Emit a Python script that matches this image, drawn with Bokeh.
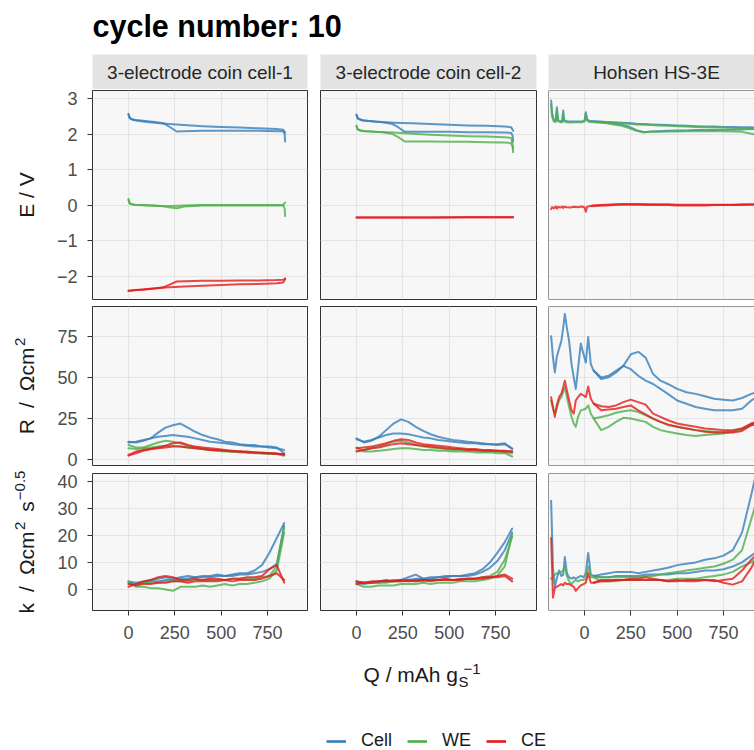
from math import pi
from bokeh.plotting import figure
from bokeh.models import (Range1d, FixedTicker, Grid, Span, Legend, LegendItem,
                          Spacer, LinearAxis)
from bokeh.layouts import column, row
from bokeh.embed import file_html
from bokeh.resources import INLINE
from bokeh.core.properties import value

# ---------------------------------------------------------------- data
TITLE = "cycle number: 10"
CELL_NAMES = ["3-electrode coin cell-1", "3-electrode coin cell-2", "Hohsen HS-3E"]
SERIES = ["Cell", "WE", "CE"]
Q_TICKS = [0, 250, 500, 750]
E_TICKS = [-2, -1, 0, 1, 2, 3]
R_TICKS = [0, 25, 50, 75]
K_TICKS = [0, 10, 20, 30, 40]

# coin cells, potential
QE_A = [0, 5, 25, 80, 140, 190, 225, 260, 300, 400, 500, 600, 700, 800, 835, 843, 845]
QE_B = [845, 835, 800, 700, 600, 500, 400, 300, 200, 100, 40, 10, 0]
E_C1_CELL_A = [2.58, 2.47, 2.41, 2.38, 2.35, 2.31, 2.20, 2.08, 2.09, 2.10, 2.10, 2.10, 2.10, 2.09, 2.09, 2.00, 1.80]
E_C1_CELL_B = [2.05, 2.13, 2.15, 2.17, 2.19, 2.21, 2.23, 2.26, 2.30, 2.35, 2.39, 2.44, 2.55]
E_C1_WE_A = [0.18, 0.05, 0.02, 0.01, 0.00, -0.02, -0.06, -0.08, -0.03, 0.00, 0.00, 0.00, 0.00, 0.00, 0.00, -0.10, -0.30]
E_C1_WE_B = [0.08, 0.02, 0.01, 0.01, 0.01, 0.01, 0.01, 0.00, -0.02, 0.00, 0.01, 0.05, 0.15]
E_C1_CE_A = [-2.40, -2.40, -2.39, -2.37, -2.34, -2.30, -2.22, -2.14, -2.13, -2.12, -2.12, -2.11, -2.11, -2.10, -2.09, -2.07, -2.05]
E_C1_CE_B = [-2.08, -2.17, -2.19, -2.21, -2.22, -2.24, -2.26, -2.28, -2.31, -2.35, -2.38, -2.40, -2.40]
E_C2_CELL_A = [2.55, 2.45, 2.40, 2.37, 2.34, 2.30, 2.20, 2.07, 2.07, 2.07, 2.07, 2.06, 2.06, 2.05, 2.04, 1.95, 1.80]
E_C2_CELL_B = [2.10, 2.20, 2.22, 2.24, 2.25, 2.27, 2.29, 2.31, 2.33, 2.36, 2.39, 2.44, 2.55]
E_C2_WE_A = [2.25, 2.15, 2.10, 2.08, 2.06, 2.02, 1.92, 1.80, 1.80, 1.80, 1.79, 1.79, 1.78, 1.77, 1.75, 1.65, 1.50]
E_C2_WE_B = [1.60, 1.90, 1.92, 1.94, 1.95, 1.97, 1.99, 2.02, 2.05, 2.07, 2.09, 2.12, 2.22]
E_C2_CE_A = [-0.34, -0.34, -0.34, -0.34, -0.34, -0.34, -0.34, -0.34, -0.34, -0.34, -0.33, -0.33, -0.33, -0.33, -0.33, -0.33, -0.33]
E_C2_CE_B = [-0.33, -0.33, -0.33, -0.33, -0.33, -0.34, -0.34, -0.34, -0.34, -0.34, -0.34, -0.34, -0.34]

# coin cells, resistance and k on a common capacity grid
QC = [0, 40, 80, 120, 160, 200, 240, 280, 320, 360, 400, 440, 480, 520, 560, 600, 640, 680, 720, 760, 800, 840]
R_C1_CELL_A = [11.0, 10.5, 11.5, 13.0, 16.5, 19.5, 21.0, 22.0, 19.5, 17.0, 15.0, 13.5, 12.5, 11.0, 10.5, 9.5, 9.0, 9.0, 8.0, 8.0, 7.5, 4.0]
R_C1_CELL_B = [10.5, 11.0, 12.0, 13.0, 14.0, 14.5, 15.0, 14.5, 14.0, 13.0, 12.0, 11.0, 10.5, 10.0, 9.5, 9.0, 8.5, 8.0, 8.0, 7.5, 7.0, 6.0]
R_C1_WE_A = [9.0, 7.5, 7.5, 9.0, 10.5, 11.5, 11.0, 10.0, 8.5, 7.5, 6.5, 6.0, 5.5, 5.0, 5.0, 4.5, 4.5, 4.0, 4.0, 3.5, 3.5, 2.5]
R_C1_WE_B = [7.0, 6.5, 7.0, 7.5, 8.0, 8.5, 8.5, 8.0, 7.5, 7.0, 6.5, 6.0, 5.5, 5.5, 5.0, 5.0, 4.5, 4.5, 4.0, 4.0, 3.5, 3.0]
R_C1_CE_A = [2.5, 4.0, 5.5, 6.5, 7.5, 8.5, 10.0, 10.5, 9.0, 8.0, 7.5, 7.0, 6.5, 6.0, 5.5, 5.0, 5.0, 4.5, 4.5, 4.0, 4.0, 3.0]
R_C1_CE_B = [3.0, 5.0, 6.0, 6.5, 7.0, 7.5, 8.0, 8.0, 7.5, 7.0, 6.5, 6.0, 6.0, 5.5, 5.0, 5.0, 4.5, 4.5, 4.0, 4.0, 3.5, 3.5]
R_C2_CELL_A = [13.0, 10.5, 11.5, 14.0, 18.0, 22.0, 24.5, 23.0, 20.0, 17.5, 15.5, 14.0, 13.0, 12.0, 11.5, 11.0, 10.5, 10.0, 9.5, 9.5, 10.0, 6.5]
R_C2_CELL_B = [12.5, 11.0, 12.0, 13.5, 15.0, 16.0, 16.0, 15.5, 14.5, 13.5, 13.0, 12.0, 11.5, 11.0, 10.5, 10.0, 10.0, 9.5, 9.5, 9.0, 9.5, 7.0]
R_C2_WE_A = [7.5, 5.0, 5.0, 5.5, 6.0, 6.5, 7.0, 7.0, 6.5, 6.0, 6.0, 5.5, 5.5, 5.0, 5.0, 5.0, 4.5, 4.5, 4.5, 4.0, 4.0, 2.0]
R_C2_WE_B = [5.5, 6.0, 7.0, 8.0, 9.5, 11.0, 11.5, 10.5, 9.0, 8.0, 7.5, 7.0, 6.5, 6.0, 6.0, 5.5, 5.5, 5.0, 5.0, 5.0, 4.5, 4.0]
R_C2_CE_A = [7.0, 7.5, 8.0, 9.0, 10.0, 11.5, 12.5, 12.0, 10.5, 9.5, 9.0, 8.5, 8.0, 7.5, 7.0, 6.5, 6.5, 6.0, 6.0, 5.5, 5.5, 5.0]
R_C2_CE_B = [5.0, 6.0, 7.0, 7.5, 8.5, 9.5, 10.0, 9.5, 9.0, 8.5, 8.0, 7.5, 7.0, 6.5, 6.5, 6.0, 6.0, 5.5, 5.5, 5.5, 5.0, 5.0]
K_C1_CELL_A = [3.0, 2.5, 3.0, 3.5, 4.0, 4.5, 4.0, 4.5, 5.0, 4.5, 5.0, 5.0, 5.5, 5.0, 5.5, 6.0, 6.0, 7.0, 9.0, 13.5, 19.0, 24.5]
K_C1_CELL_B = [2.5, 2.0, 2.5, 3.0, 3.0, 3.5, 3.5, 4.0, 4.0, 4.5, 4.5, 4.5, 5.0, 5.0, 5.0, 5.5, 5.5, 6.0, 6.5, 7.5, 9.5, 23.5]
K_C1_WE_A = [3.0, 1.0, 1.0, 0.5, 0.5, 0.0, -0.5, 1.0, 1.0, 1.0, 1.5, 1.0, 1.5, 2.0, 1.5, 2.0, 2.0, 2.5, 3.0, 4.0, 7.0, 21.0]
K_C1_WE_B = [2.0, 2.0, 2.5, 2.5, 2.5, 3.0, 3.0, 3.0, 3.0, 3.5, 3.5, 3.5, 3.5, 3.5, 4.0, 4.0, 4.0, 4.0, 4.5, 5.0, 8.5, 23.0]
K_C1_CE_A = [1.0, 2.0, 3.0, 3.5, 4.5, 5.0, 4.5, 3.5, 3.5, 4.0, 3.5, 4.0, 4.0, 3.5, 4.0, 4.0, 4.5, 4.5, 5.0, 7.5, 9.0, 2.5]
K_C1_CE_B = [2.0, 1.5, 2.0, 2.0, 2.5, 2.5, 3.0, 3.0, 2.5, 3.0, 3.0, 3.0, 3.0, 3.5, 3.0, 3.5, 3.5, 3.5, 4.0, 5.0, 6.0, 3.5]
K_C2_CELL_A = [3.0, 2.5, 2.5, 3.0, 3.0, 3.5, 3.5, 4.5, 5.5, 4.0, 4.5, 4.5, 5.0, 5.0, 5.0, 5.5, 6.0, 7.5, 10.0, 13.5, 17.5, 22.5]
K_C2_CELL_B = [2.5, 2.0, 2.5, 2.5, 3.0, 3.0, 3.5, 3.5, 4.0, 4.0, 4.0, 4.5, 4.5, 5.0, 5.0, 5.0, 5.5, 6.5, 8.0, 10.5, 14.5, 21.0]
K_C2_WE_A = [2.0, 1.0, 1.0, 1.5, 1.5, 1.5, 2.0, 2.0, 2.0, 2.5, 2.0, 2.5, 2.5, 2.5, 3.0, 3.0, 3.0, 3.5, 4.0, 5.0, 8.5, 20.5]
K_C2_WE_B = [3.0, 2.5, 2.5, 2.5, 2.5, 3.0, 3.0, 3.0, 3.0, 3.0, 3.5, 3.5, 3.5, 3.5, 3.5, 4.0, 4.0, 4.5, 5.0, 6.5, 11.0, 19.5]
K_C2_CE_A = [2.0, 2.5, 3.0, 3.0, 3.5, 3.0, 3.5, 3.0, 3.5, 3.5, 3.5, 3.5, 4.0, 3.5, 4.0, 4.0, 4.0, 4.5, 4.5, 5.0, 5.5, 4.0]
K_C2_CE_B = [3.0, 2.5, 2.5, 3.0, 3.0, 3.0, 3.0, 3.5, 3.0, 3.5, 3.0, 3.5, 3.5, 3.5, 3.5, 4.0, 4.0, 4.0, 4.5, 4.5, 5.0, 3.0]

# Hohsen cell, potential: start segment + two branches
QHE_S = [-180, -175, -165, -155, -149, -143, -130, -120, -115, -110, -95, -75, -55, -35, -15, 0, 7, 14, 25, 40]
E_H_CELL_S = [2.95, 2.60, 2.40, 2.38, 2.76, 2.40, 2.37, 2.37, 2.67, 2.40, 2.37, 2.36, 2.36, 2.36, 2.36, 2.38, 2.62, 2.42, 2.38, 2.37]
E_H_WE_S = [2.85, 2.50, 2.36, 2.35, 2.70, 2.37, 2.34, 2.34, 2.60, 2.36, 2.34, 2.33, 2.34, 2.34, 2.34, 2.36, 2.58, 2.39, 2.35, 2.35]
E_H_CE_S = [-0.10, -0.05, -0.08, -0.03, -0.09, -0.04, -0.06, -0.03, -0.07, -0.04, -0.05, -0.06, -0.04, -0.05, -0.03, -0.05, -0.18, -0.04, -0.02, -0.01]
QHE_M = [40, 80, 120, 160, 200, 240, 280, 320, 360, 400, 450, 500, 550, 600, 650, 700, 750, 800, 850, 900, 940]
E_H_CELL_A = [2.37, 2.35, 2.33, 2.30, 2.27, 2.22, 2.12, 2.06, 2.08, 2.09, 2.10, 2.11, 2.11, 2.12, 2.12, 2.12, 2.13, 2.13, 2.14, 2.15, 2.15]
E_H_CELL_B = [2.37, 2.36, 2.35, 2.34, 2.33, 2.32, 2.30, 2.29, 2.28, 2.27, 2.26, 2.25, 2.24, 2.23, 2.22, 2.22, 2.21, 2.21, 2.20, 2.20, 2.19]
E_H_WE_A = [2.35, 2.33, 2.31, 2.28, 2.24, 2.18, 2.10, 2.06, 2.07, 2.07, 2.08, 2.08, 2.09, 2.09, 2.09, 2.09, 2.09, 2.08, 2.07, 2.02, 1.98]
E_H_WE_B = [2.35, 2.34, 2.33, 2.32, 2.31, 2.30, 2.28, 2.27, 2.26, 2.25, 2.24, 2.23, 2.22, 2.21, 2.20, 2.19, 2.19, 2.18, 2.18, 2.17, 2.16]
E_H_CE_A = [0.00, 0.01, 0.02, 0.03, 0.04, 0.04, 0.04, 0.04, 0.03, 0.03, 0.03, 0.02, 0.02, 0.02, 0.02, 0.02, 0.02, 0.02, 0.03, 0.03, 0.03]
E_H_CE_B = [-0.02, -0.01, 0.00, 0.01, 0.02, 0.02, 0.02, 0.01, 0.01, 0.01, 0.01, 0.00, 0.00, 0.00, 0.00, 0.01, 0.01, 0.01, 0.01, 0.02, 0.02]

# Hohsen cell, resistance and k
QHR_S = [-180, -170, -160, -150, -137, -125, -115, -106, -95, -83, -70, -58, -47, -35, -20, -5, 7, 20, 34, 50]
R_H_CELL_S = [75.0, 62.0, 53.0, 62.0, 67.5, 72.0, 80.0, 88.5, 80.0, 72.0, 58.0, 50.0, 43.0, 55.0, 70.5, 64.0, 59.0, 74.5, 58.0, 54.0]
R_H_WE_S = [36.0, 31.0, 28.0, 31.0, 36.0, 38.0, 41.0, 44.0, 38.0, 32.0, 26.0, 22.0, 20.0, 26.0, 30.0, 30.5, 31.0, 33.0, 28.0, 25.0]
R_H_CE_S = [38.0, 32.0, 26.0, 33.0, 38.0, 40.0, 44.0, 48.0, 42.0, 36.0, 30.0, 28.0, 36.0, 38.0, 40.0, 39.0, 38.0, 44.5, 37.0, 34.0]
QHR_M = [50, 90, 130, 170, 210, 250, 290, 330, 370, 410, 450, 500, 550, 600, 650, 700, 750, 800, 850, 900, 930]
R_H_CELL_A = [54.0, 50.0, 51.0, 54.0, 57.0, 64.0, 65.5, 62.0, 52.0, 48.0, 46.0, 43.0, 41.0, 40.0, 38.5, 37.0, 36.5, 36.0, 37.5, 40.0, 41.0]
R_H_CELL_B = [54.0, 49.0, 50.0, 53.0, 57.0, 55.0, 51.0, 48.0, 46.0, 43.0, 40.0, 36.0, 34.0, 32.0, 31.0, 30.0, 30.0, 30.0, 31.0, 36.0, 38.0]
R_H_WE_A = [25.0, 18.0, 20.0, 23.0, 25.5, 25.0, 24.0, 23.0, 20.0, 18.0, 17.0, 16.0, 15.0, 14.5, 15.0, 15.5, 16.0, 17.0, 18.5, 22.0, 23.0]
R_H_WE_B = [25.0, 26.0, 27.0, 28.5, 29.5, 30.0, 29.0, 27.0, 25.0, 23.0, 21.0, 20.0, 19.0, 18.0, 17.5, 17.0, 17.0, 17.5, 19.0, 21.0, 22.0]
R_H_CE_A = [34.0, 32.5, 32.0, 33.0, 35.0, 36.5, 35.0, 33.5, 28.0, 26.0, 24.0, 22.0, 21.0, 20.0, 19.0, 18.5, 18.0, 18.0, 19.0, 22.0, 23.0]
R_H_CE_B = [34.0, 30.0, 30.5, 31.0, 32.0, 33.0, 30.0, 27.5, 25.0, 23.0, 21.5, 20.0, 19.0, 18.0, 17.0, 16.5, 16.5, 16.5, 17.5, 21.0, 22.0]
K_H_CELL_S = [32.8, 8.0, 1.0, 4.0, 7.0, 5.0, 5.5, 12.0, 6.0, 4.5, 4.0, 4.5, 4.0, 4.5, 5.0, 4.5, 6.0, 13.5, 5.5, 5.0]
K_H_WE_S = [4.0, 4.5, 5.5, 6.0, 6.0, 6.5, 7.0, 8.5, 5.0, 3.0, 2.0, 3.0, 3.5, 3.0, 3.5, 3.5, 4.0, 8.5, 4.5, 4.5]
K_H_CE_S = [19.0, -3.0, 0.5, 1.0, 1.5, 2.0, 1.5, 2.5, 2.0, 2.0, 1.5, 1.0, -0.5, 0.5, 1.5, 2.0, 2.5, 6.0, 2.5, 2.5]
K_H_CELL_A = [5.0, 5.5, 6.0, 6.5, 6.5, 6.5, 6.0, 6.5, 7.0, 7.5, 8.0, 9.0, 9.5, 10.0, 11.0, 11.5, 12.5, 14.5, 21.0, 35.0, 44.0]
K_H_CELL_B = [5.0, 4.5, 4.5, 5.0, 5.0, 5.0, 5.0, 5.5, 5.5, 5.5, 5.5, 6.0, 6.0, 6.5, 7.0, 7.0, 7.5, 8.5, 10.0, 12.5, 14.0]
K_H_WE_A = [4.5, 4.5, 4.5, 4.5, 4.5, 4.5, 4.5, 5.0, 5.0, 5.5, 6.0, 6.5, 7.0, 7.5, 8.0, 8.5, 9.5, 11.0, 14.5, 26.0, 33.0]
K_H_WE_B = [4.5, 3.0, 3.0, 3.0, 3.5, 3.5, 3.5, 3.5, 3.5, 3.5, 3.5, 4.0, 4.0, 4.0, 4.5, 5.0, 5.5, 6.5, 8.5, 10.0, 11.5]
K_H_CE_A = [2.5, 3.0, 3.0, 3.5, 3.5, 4.0, 4.0, 4.5, 4.0, 3.5, 3.0, 3.0, 3.5, 3.5, 3.5, 3.5, 2.5, 1.8, 3.0, 8.0, 12.0]
K_H_CE_B = [2.5, 3.5, 3.5, 3.5, 3.5, 3.5, 3.5, 3.5, 3.5, 3.5, 3.0, 3.5, 3.0, 3.0, 3.5, 3.0, 3.5, 4.0, 7.0, 11.0, 13.0]

# table of curves per (column, row): series -> list of (Q, value) branches
CURVES = {
    (0, 0): {"Cell": [(QE_A, E_C1_CELL_A), (QE_B, E_C1_CELL_B)],
             "WE": [(QE_A, E_C1_WE_A), (QE_B, E_C1_WE_B)],
             "CE": [(QE_A, E_C1_CE_A), (QE_B, E_C1_CE_B)]},
    (1, 0): {"Cell": [(QE_A, E_C2_CELL_A), (QE_B, E_C2_CELL_B)],
             "WE": [(QE_A, E_C2_WE_A), (QE_B, E_C2_WE_B)],
             "CE": [(QE_A, E_C2_CE_A), (QE_B, E_C2_CE_B)]},
    (2, 0): {"Cell": [(QHE_S + QHE_M, E_H_CELL_S + E_H_CELL_A), (QHE_M, E_H_CELL_B)],
             "WE": [(QHE_S + QHE_M, E_H_WE_S + E_H_WE_A), (QHE_M, E_H_WE_B)],
             "CE": [(QHE_S + QHE_M, E_H_CE_S + E_H_CE_A), (QHE_M, E_H_CE_B)]},
    (0, 1): {"Cell": [(QC, R_C1_CELL_A), (QC, R_C1_CELL_B)],
             "WE": [(QC, R_C1_WE_A), (QC, R_C1_WE_B)],
             "CE": [(QC, R_C1_CE_A), (QC, R_C1_CE_B)]},
    (1, 1): {"Cell": [(QC, R_C2_CELL_A), (QC, R_C2_CELL_B)],
             "WE": [(QC, R_C2_WE_A), (QC, R_C2_WE_B)],
             "CE": [(QC, R_C2_CE_A), (QC, R_C2_CE_B)]},
    (2, 1): {"Cell": [(QHR_S + QHR_M, R_H_CELL_S + R_H_CELL_A), (QHR_M, R_H_CELL_B)],
             "WE": [(QHR_S + QHR_M, R_H_WE_S + R_H_WE_A), (QHR_M, R_H_WE_B)],
             "CE": [(QHR_S + QHR_M, R_H_CE_S + R_H_CE_A), (QHR_M, R_H_CE_B)]},
    (0, 2): {"Cell": [(QC, K_C1_CELL_A), (QC, K_C1_CELL_B)],
             "WE": [(QC, K_C1_WE_A), (QC, K_C1_WE_B)],
             "CE": [(QC, K_C1_CE_A), (QC, K_C1_CE_B)]},
    (1, 2): {"Cell": [(QC, K_C2_CELL_A), (QC, K_C2_CELL_B)],
             "WE": [(QC, K_C2_WE_A), (QC, K_C2_WE_B)],
             "CE": [(QC, K_C2_CE_A), (QC, K_C2_CE_B)]},
    (2, 2): {"Cell": [(QHR_S + QHR_M, K_H_CELL_S + K_H_CELL_A), (QHR_M, K_H_CELL_B)],
             "WE": [(QHR_S + QHR_M, K_H_WE_S + K_H_WE_A), (QHR_M, K_H_WE_B)],
             "CE": [(QHR_S + QHR_M, K_H_CE_S + K_H_CE_A), (QHR_M, K_H_CE_B)]},
}

# ---------------------------------------------------------------- style
FONT = "Liberation Sans"
COLORS = {"Cell": "#377EB8", "WE": "#4DAF4A", "CE": "#E41A1C"}
PANEL_BG = "#F7F7F7"
GRID_C = "#E4E4E4"
BORDER_C = "#333333"
STRIP_BG = "#E3E3E3"
TICK_TXT = "#4D4D4D"
TITLE_TXT = "#1A1A1A"
MID = 0.3465            # distance baseline -> text middle, in font sizes

# geometry (pixels, page origin = window origin)
TOTAL_W = 754
YLAB_W = 42
COL_W = [266, 229, 217]
COL_BL = [50, 12, 11]
COL_BR = [1, 1, 0]
ROW_H = [216, 167, 178]
ROW_BT = [1, 1, 1]
ROW_BB = [6, 7, 40]
TITLE_H = 54
STRIP_H = 35
BODY_Y0 = TITLE_H + STRIP_H            # 89
XLAB_H = 64
LEG_H = 36
PX_PER_Q = 139.0 / 750.0
Q_START = -194.2
Y_LIMITS = [(-2.647, 3.234), (-3.46, 93.0), (-7.76, 42.84)]
Y_TICKS = [E_TICKS, R_TICKS, K_TICKS]
STRIP_CX = [107.5, 108.0, 108.0]

W_ARIAL = {' ': 278, '/': 278, 'Q': 778, 'm': 833, 'A': 667, 'h': 556, 'g': 556,
           'S': 667, 'R': 722, 'k': 500, 'Ω': 768, 'c': 500, 's': 500, '-': 333,
           '−': 584, '.': 278, 'E': 667, 'V': 667}


def tw(s, size):
    return sum(W_ARIAL.get(ch, 556) for ch in s) * size / 1000.0


def token_positions(tokens):
    pos, cur = [], 0.0
    for text, size, rise, gap in tokens:
        cur += gap
        pos.append(cur)
        cur += tw(text, size)
    return pos, cur


def drop_default_grids(p):
    p.center = [c for c in p.center if not isinstance(c, Grid)]


def blank(width, height, xr, yr, bl=0, br=0, bg="white"):
    p = figure(width=width, height=height, output_backend="svg", toolbar_location=None,
               x_range=Range1d(*xr), y_range=Range1d(*yr),
               x_axis_location=None, y_axis_location=None,
               min_border_left=bl, min_border_right=br,
               min_border_top=0, min_border_bottom=0,
               background_fill_color=bg, border_fill_color="white",
               outline_line_color=None)
    drop_default_grids(p)
    return p


def style_axis(ax, standoff):
    ax.axis_line_color = None
    ax.major_tick_line_color = BORDER_C
    ax.major_tick_line_width = 1
    ax.major_tick_out = 5
    ax.major_tick_in = 0
    ax.minor_tick_out = 0
    ax.minor_tick_in = 0
    ax.major_label_text_font = FONT
    ax.major_label_text_font_size = "18px"
    ax.major_label_text_color = TICK_TXT
    ax.major_label_standoff = standoff


def make_panel(ci, ri):
    fw = COL_W[ci] - COL_BL[ci] - COL_BR[ci]
    p = figure(width=COL_W[ci], height=ROW_H[ri], output_backend="svg",
               toolbar_location=None,
               x_range=Range1d(Q_START, Q_START + fw / PX_PER_Q),
               y_range=Range1d(*Y_LIMITS[ri]),
               x_axis_location=None, y_axis_location=None,
               min_border_left=COL_BL[ci], min_border_right=COL_BR[ci],
               min_border_top=ROW_BT[ri], min_border_bottom=ROW_BB[ri],
               background_fill_color=PANEL_BG, border_fill_color="white",
               outline_line_color=BORDER_C if ci < 2 else None,
               outline_line_width=1)
    drop_default_grids(p)
    p.add_layout(Grid(dimension=0, ticker=FixedTicker(ticks=Q_TICKS),
                      grid_line_color=GRID_C, grid_line_width=1.1))
    p.add_layout(Grid(dimension=1, ticker=FixedTicker(ticks=Y_TICKS[ri]),
                      grid_line_color=GRID_C, grid_line_width=1.1))
    if ri == 2:
        ax = LinearAxis(ticker=FixedTicker(ticks=Q_TICKS))
        style_axis(ax, 10)
        p.add_layout(ax, "below")
    if ci == 0:
        ay = LinearAxis(ticker=FixedTicker(ticks=Y_TICKS[ri]))
        style_axis(ay, 10)
        p.add_layout(ay, "left")
    for s in SERIES:
        for qs, vs in CURVES[(ci, ri)][s]:
            p.line(x=qs, y=vs, line_color=COLORS[s], line_width=2.0, line_alpha=0.8,
                   line_join="round", line_cap="round")
    if ci == 2:
        x0, y0, y1 = Q_START, Y_LIMITS[ri][0], Y_LIMITS[ri][1]
        p.add_layout(Span(location=x0, dimension="height", line_color=BORDER_C, line_width=1))
        p.add_layout(Span(location=y0, dimension="width", line_color=BORDER_C, line_width=1))
        p.add_layout(Span(location=y1, dimension="width", line_color=BORDER_C, line_width=1))
    return p


def make_strip(ci):
    fw = COL_W[ci] - COL_BL[ci] - COL_BR[ci]
    p = blank(COL_W[ci], STRIP_H, (0, fw), (0, STRIP_H), bl=COL_BL[ci], br=COL_BR[ci],
              bg=STRIP_BG)
    p.text(x=[STRIP_CX[ci]], y=[17.0], text=[CELL_NAMES[ci]], text_align="center",
           text_baseline="middle", text_font=value(FONT), text_font_size="19px",
           text_color="#262626")
    return p


# title (baseline at window y 35.7)
TITLE_SIZE = 30.5
title_fig = blank(TOTAL_W, TITLE_H, (0, TOTAL_W), (-TITLE_H, 0))
title_fig.text(x=[92], y=[-(35.7 - MID * TITLE_SIZE)], text=[TITLE], text_align="left",
               text_baseline="middle", text_font=value(FONT),
               text_font_size=f"{TITLE_SIZE}px", text_font_style="bold", text_color="black")

strips = [make_strip(ci) for ci in range(3)]
panels = [[make_panel(ci, ri) for ci in range(3)] for ri in range(3)]

# y axis titles (rotated, with superscripts) in one tall figure
Y_LABELS = [
    [("E / V", 21, 0, 0)],
    [("R", 21, 0, 0), ("/", 21, 0, 11), ("Ωcm", 21, 0, 11), ("2", 15, 9, 1)],
    [("k", 21, 0, 0), ("/", 21, 0, 11), ("Ωcm", 21, 0, 11), ("2", 15, 9, 1),
     ("s", 21, 0, 10), ("−0.5", 15, 9, 1)],
]
YLAB_BASE_X = 33.5
BODY_H = sum(ROW_H)
ylab_fig = blank(YLAB_W, BODY_H, (0, YLAB_W), (-(BODY_Y0 + BODY_H), -BODY_Y0))
y_top = BODY_Y0
for ri in range(3):
    frame_top = y_top + ROW_BT[ri]
    frame_bot = y_top + ROW_H[ri] - ROW_BB[ri]
    center = (frame_top + frame_bot) / 2.0
    pos, total = token_positions(Y_LABELS[ri])
    bottom = center + total / 2.0
    for (text, size, rise, gap), ps in zip(Y_LABELS[ri], pos):
        ylab_fig.text(x=[YLAB_BASE_X - rise - MID * size], y=[-(bottom - ps)], text=[text],
                      angle=pi / 2, text_align="left", text_baseline="middle",
                      text_font=value(FONT), text_font_size=f"{size}px",
                      text_color=TITLE_TXT)
    y_top += ROW_H[ri]

# x axis title (baseline at window y 681)
X_LABEL = [("Q / mAh g", 21, 0, 0), ("S", 15, -5, 0.5), ("−1", 15, 7, -5)]
XLAB_Y0 = BODY_Y0 + BODY_H
xlab_fig = blank(TOTAL_W, XLAB_H, (0, TOTAL_W), (-(XLAB_Y0 + XLAB_H), -XLAB_Y0))
pos, total = token_positions(X_LABEL)
x_start = 363.0
for (text, size, rise, gap), ps in zip(X_LABEL, pos):
    xlab_fig.text(x=[x_start + ps], y=[-(681.0 - rise - MID * size)], text=[text],
                  text_align="left", text_baseline="middle", text_font=value(FONT),
                  text_font_size=f"{size}px", text_color=TITLE_TXT)

# legend
leg_fig = blank(TOTAL_W, LEG_H, (0, TOTAL_W), (0, LEG_H))
items = []
for s in SERIES:
    r = leg_fig.line(x=[float("nan")], y=[float("nan")], line_color=COLORS[s], line_width=2.6)
    items.append(LegendItem(label=s, renderers=[r]))
legend = Legend(items=items, orientation="horizontal", location=(326, -1),
                glyph_width=20, glyph_height=20, label_standoff=15, spacing=15,
                padding=0, margin=0, border_line_color=None, background_fill_alpha=0,
                label_text_font=FONT, label_text_font_size="18px",
                label_text_color=TITLE_TXT)
leg_fig.add_layout(legend)

layout = column(
    title_fig,
    row(Spacer(width=YLAB_W, height=STRIP_H), *strips),
    row(ylab_fig, column(row(*panels[0]), row(*panels[1]), row(*panels[2]))),
    xlab_fig,
    leg_fig,
)

open("out.html", "w").write(file_html(layout, INLINE))
